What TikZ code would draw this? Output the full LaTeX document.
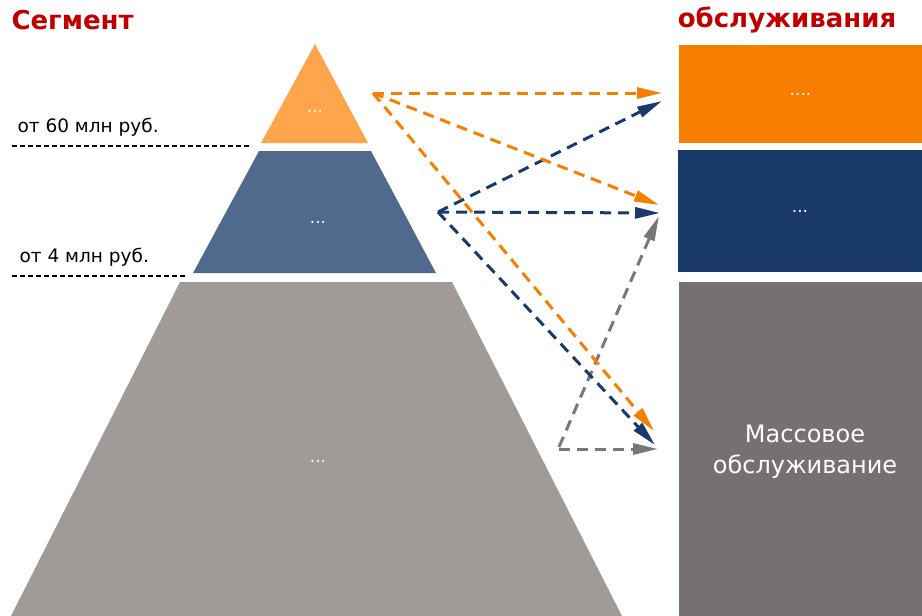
\documentclass[tikz,border=0pt]{standalone}
\usepackage{fontspec}
\setmainfont{DejaVu Sans}
\usetikzlibrary{arrows.meta}
\definecolor{segred}{HTML}{C00000}
\definecolor{toporange}{HTML}{FFA54C}
\definecolor{midblue}{HTML}{506A8E}
\definecolor{basegray}{HTML}{A09A99}
\definecolor{boxorange}{HTML}{F77F00}
\definecolor{boxblue}{HTML}{1A3A6A}
\definecolor{boxgray}{HTML}{767170}
\definecolor{arrgray}{HTML}{7A7776}
\begin{document}
\begin{tikzpicture}[x=1pt,y=-1pt,>={Triangle[length=25pt,width=11pt]},
  link/.style={line width=3pt,dash pattern=on 11pt off 7pt,->},
  level/.style={line width=1.5pt,dash pattern=on 5pt off 3pt},
  dots/.style={text=white,font=\fontsize{17}{19}\selectfont},
  tier/.style={minimum width=243pt,inner sep=0pt,text=white},
  title/.style={text=segred,font=\fontsize{26}{28}\selectfont\bfseries}]
\useasboundingbox (0,0) rectangle (922,616);

\node[title,anchor=west] (seg) at (8,20) {Сегмент};
\node[title] (serv) at (787,20) {обслуживания};

% pyramid
\fill[toporange] (315,44) -- (368,143) -- (261,143) -- cycle;
\fill[midblue] (259,151) -- (371,151) -- (436,273) -- (193,273) -- cycle;
\fill[basegray] (180,282) -- (452,282) -- (622,616) -- (11,616) -- cycle;
\node[dots] (top) at (315,111) {...};
\node[dots] (mid) at (318,222) {...};
\node[dots] (base) at (318,461) {...};

% thresholds
\node[anchor=west,font=\fontsize{18.5}{20}\selectfont] (lim1) at (14,127) {от 60 млн руб.};
\node[anchor=west,font=\fontsize{18.5}{20}\selectfont] (lim2) at (16,257) {от 4 млн руб.};
\coordinate (l1a) at (12,146);
\coordinate (l1b) at (252,146);
\coordinate (l2a) at (12,276);
\coordinate (l2b) at (186,276);
\draw[level] (l1a) -- (l1b);
\draw[level] (l2a) -- (l2b);

% service levels
\node[tier,fill=boxorange,minimum height=98pt,font=\fontsize{17}{19}\selectfont] (vip) at (800.5,94) {....};
\node[tier,fill=boxblue,minimum height=122pt,minimum width=244pt,font=\fontsize{17}{19}\selectfont] (prem) at (800,211) {...};
\node[tier,fill=boxgray,minimum height=334pt] (mass) at (800.5,449) {};
\node[text=white,align=center,font=\fontsize{24}{31}\selectfont] (masstxt) at (805,452) {Массовое\\обслуживание};

% links
\coordinate (os) at (373,93);
\coordinate (ot1) at (662,93);
\coordinate (ot2) at (659,205);
\coordinate (ot3) at (654,431);
\coordinate (ns) at (438,212);
\coordinate (nt1) at (662,101);
\coordinate (nt2) at (660,213);
\coordinate (nt3) at (655,445);
\coordinate (gs) at (559,447);
\coordinate (gt1) at (659,216);
\coordinate (gt2) at (658,449);
\coordinate (gs2) at (559,449);
\draw[link,arrgray] (gs) -- (gt1);
\draw[link,arrgray] (gs2) -- (gt2);
\draw[link,boxblue] (ns) -- (nt1);
\draw[link,boxblue] (ns) -- (nt2);
\draw[link,boxblue] (ns) -- (nt3);
\draw[link,boxorange] (os) -- (ot1);
\draw[link,boxorange] (os) -- (ot2);
\draw[link,boxorange] (os) -- (ot3);
\end{tikzpicture}
\end{document}
